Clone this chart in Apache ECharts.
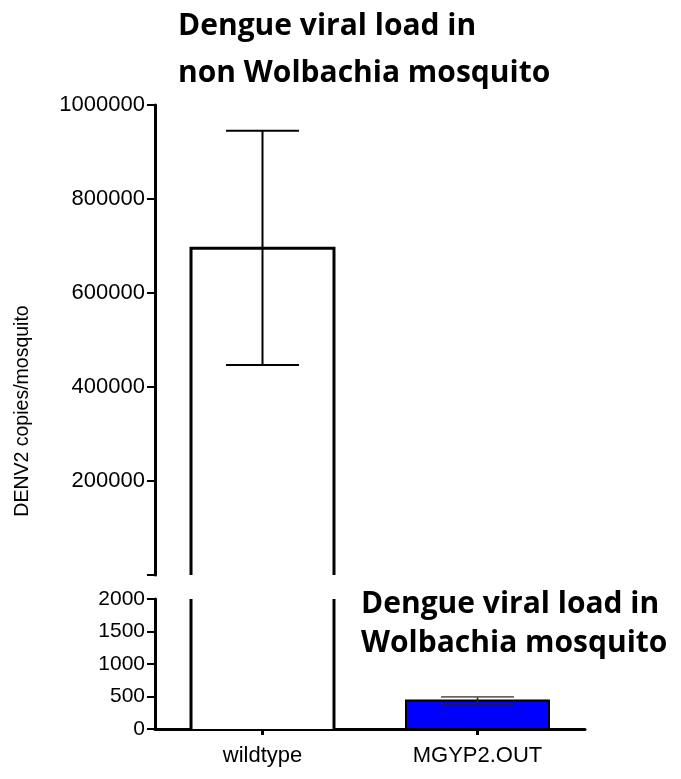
<!DOCTYPE html>
<html>
<head>
<meta charset="utf-8">
<script src="https://cdn.jsdelivr.net/npm/echarts@6/dist/echarts.min.js"></script>
<style>
html,body{margin:0;padding:0;background:#fff;}
#chart{width:681px;height:779px;}
</style>
</head>
<body>
<div id="chart"></div>
<script>
// ---- data ----
var categories = ['wildtype', 'MGYP2.OUT'];
var means = [695000, 440];
var errLow = [447000, 385];
var errHigh = [945000, 495];
var barColors = ['#ffffff', '#0000ff'];
var topTicks = [200000, 400000, 600000, 800000, 1000000];
var bottomTicks = [0, 500, 1000, 1500, 2000];
var topMax = 1000000;
var bottomMax = 2000;

var chart = echarts.init(document.getElementById('chart'), null, {renderer: 'canvas'});

var seriesData = categories.map(function (c, i) {
  return [i, means[i], errLow[i], errHigh[i]];
});

function makeRender(isTop) {
  return function (params, api) {
    var idx = params.dataIndex;
    var cat = api.value(0), val = api.value(1), lo = api.value(2), hi = api.value(3);
    var cs = params.coordSys;
    var top = cs.y, bottom = cs.y + cs.height;
    if (isTop && val <= bottomMax) return null;
    var cx = api.coord([cat, 0])[0];
    var w = api.size([1, 0])[0] * 0.665;
    var x0 = cx - w / 2, x1 = cx + w / 2;
    var yv = api.coord([cat, val])[1];
    var clipped = yv < top;
    var yt = Math.max(yv, top);
    var lw = idx === 0 ? 3 : 2;
    var children = [];
    children.push({
      type: 'rect',
      shape: {x: x0, y: yt, width: w, height: bottom - yt},
      style: {fill: barColors[idx]}
    });
    if (clipped) {
      children.push({type: 'line', shape: {x1: x0, y1: bottom, x2: x0, y2: top}, style: {stroke: '#000', lineWidth: lw}});
      children.push({type: 'line', shape: {x1: x1, y1: bottom, x2: x1, y2: top}, style: {stroke: '#000', lineWidth: lw}});
    } else {
      var pts = [[x0, bottom], [x0, yt], [x1, yt], [x1, bottom]];
      if (!isTop) pts.push([x0, bottom]);
      children.push({type: 'polyline', shape: {points: pts}, style: {stroke: '#000', lineWidth: lw, fill: null}});
    }
    // error bars
    var yl = api.coord([cat, lo])[1];
    var yh = api.coord([cat, hi])[1];
    if (yl >= top - 0.5 && yh <= bottom + 0.5) {
      var capW = w * 0.51;
      var ew = idx === 0 ? 2 : 1.6;
      var ec = idx === 0 ? '#000' : '#222';
      var topCapColor = idx === 0 ? '#000' : '#666';
      children.push({type: 'line', shape: {x1: cx, y1: yl, x2: cx, y2: yh}, style: {stroke: ec, lineWidth: ew}});
      children.push({type: 'line', shape: {x1: cx - capW / 2, y1: yh, x2: cx + capW / 2, y2: yh}, style: {stroke: topCapColor, lineWidth: ew}});
      children.push({type: 'line', shape: {x1: cx - capW / 2, y1: yl, x2: cx + capW / 2, y2: yl}, style: {stroke: ec, lineWidth: ew}});
    }
    return {type: 'group', children: children};
  };
}

var option = {
  backgroundColor: '#ffffff',
  animation: false,
  grid: [
    {left: 155, top: 105, width: 430, height: 470, containLabel: false, outerBoundsMode: 'none'},
    {left: 155, top: 599, width: 430, height: 130, containLabel: false, outerBoundsMode: 'none'}
  ],
  xAxis: [
    {type: 'category', gridIndex: 0, data: categories, show: false},
    {
      type: 'category', gridIndex: 1, data: categories,
      axisLine: {show: true, lineStyle: {color: '#000', width: 3}},
      axisTick: {show: true, alignWithLabel: true, length: 6, lineStyle: {color: '#000', width: 3}},
      axisLabel: {show: true, margin: 16, color: '#000', fontSize: 22, fontFamily: 'Liberation Sans'},
      splitLine: {show: false}
    }
  ],
  yAxis: [
    {
      type: 'value', gridIndex: 0, min: 0, max: topMax, interval: 200000,
      axisLine: {show: true, lineStyle: {color: '#000', width: 3}},
      axisTick: {show: true, length: 8, lineStyle: {color: '#000', width: 2}},
      axisLabel: {
        show: true, margin: 10, color: '#000', fontSize: 22, fontFamily: 'Liberation Sans',
        formatter: function (v) { return topTicks.indexOf(v) >= 0 ? String(v) : ''; }
      },
      splitLine: {show: false}
    },
    {
      type: 'value', gridIndex: 1, min: 0, max: bottomMax, interval: 500,
      axisLine: {show: true, lineStyle: {color: '#000', width: 3}},
      axisTick: {show: true, length: 8, lineStyle: {color: '#000', width: 2}},
      axisLabel: {
        show: true, margin: 10, color: '#000', fontSize: 21, fontFamily: 'Liberation Sans',
        formatter: function (v) { return bottomTicks.indexOf(v) >= 0 ? String(v) : ''; }
      },
      splitLine: {show: false}
    }
  ],
  series: [
    {type: 'custom', xAxisIndex: 0, yAxisIndex: 0, renderItem: makeRender(true), data: seriesData, encode: {x: 0, y: 1}, z: 2},
    {type: 'custom', xAxisIndex: 1, yAxisIndex: 1, renderItem: makeRender(false), data: seriesData, encode: {x: 0, y: 1}, z: 2}
  ],
  graphic: [
    {type: 'text', x: 178, y: 26.5, style: {text: 'Dengue viral load in', fill: '#000', font: 'bold 30px "Open Sans"', textAlign: 'left', textVerticalAlign: 'middle'}},
    {type: 'text', x: 178, y: 73.5, style: {text: 'non Wolbachia mosquito', fill: '#000', font: 'bold 30px "Open Sans"', textAlign: 'left', textVerticalAlign: 'middle'}},
    {type: 'text', x: 361, y: 604.5, style: {text: 'Dengue viral load in', fill: '#000', font: 'bold 30px "Open Sans"', textAlign: 'left', textVerticalAlign: 'middle'}},
    {type: 'text', x: 361, y: 643.5, style: {text: 'Wolbachia mosquito', fill: '#000', font: 'bold 30px "Open Sans"', textAlign: 'left', textVerticalAlign: 'middle'}},
    {type: 'text', x: 23, y: 411, rotation: Math.PI / 2, style: {text: 'DENV2 copies/mosquito', fill: '#000', font: '19.5px "Liberation Sans"', textAlign: 'center', textVerticalAlign: 'middle'}}
  ]
};
chart.setOption(option);
</script>
</body>
</html>
